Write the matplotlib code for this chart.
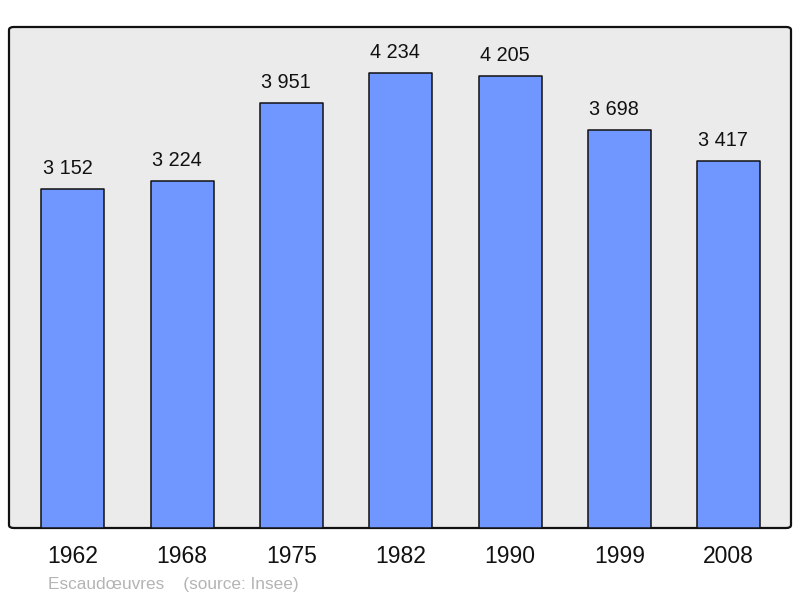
import matplotlib.pyplot as plt
from matplotlib.patches import FancyBboxPatch

years = ['1962', '1968', '1975', '1982', '1990', '1999', '2008']
population = [3152, 3224, 3951, 4234, 4205, 3698, 3417]
value_labels = ['3 152', '3 224', '3 951', '4 234', '4 205', '3 698', '3 417']
place = 'Escaudœuvres'
source = '(source: Insee)'

plt.rcParams['font.family'] = ['Liberation Sans', 'DejaVu Sans']

W, H = 800, 598
fig = plt.figure(figsize=(W / 100, H / 100), dpi=100)
left, right, top, bottom = 9, 791, 27, 528
ax = fig.add_axes([left / W, 1 - bottom / H, (right - left) / W, (bottom - top) / H])
ax.set_facecolor('none')

# rounded frame behind the bars
frame = FancyBboxPatch((0, 0), 1, 1, boxstyle='round,pad=0,rounding_size=0.006',
                       transform=ax.transAxes, facecolor='#ebebeb',
                       edgecolor='#111111', linewidth=1.6, zorder=0, clip_on=False)
ax.add_patch(frame)

x = range(len(years))
bars = ax.bar(x, population, width=0.576, color='#7096ff', edgecolor='#111111',
              linewidth=1.1, joinstyle='round', zorder=2)

# labels sit a little left of the bar centre in the original
for xi, v, lab in zip(x, population, value_labels):
    ax.annotate(lab, (xi, v), xytext=(-4, 8), textcoords='offset points',
                ha='center', va='bottom', fontsize=14.3, color='#111111')

ax.set_xlim(-0.585, 6.57)
ax.set_ylim(0, 4660)
for s in ax.spines.values():
    s.set_visible(False)
ax.set_xticks(list(x))
ax.set_xticklabels(years, fontsize=16.5, color='#111111')
ax.tick_params(axis='x', length=0, pad=12)
ax.set_yticks([])

fig.text(48 / W, 1 - 584 / H, place + '    ' + source, fontsize=12.4,
         color='#b4b4b4', ha='left', va='center')

fig.savefig('out.png', dpi=100)
